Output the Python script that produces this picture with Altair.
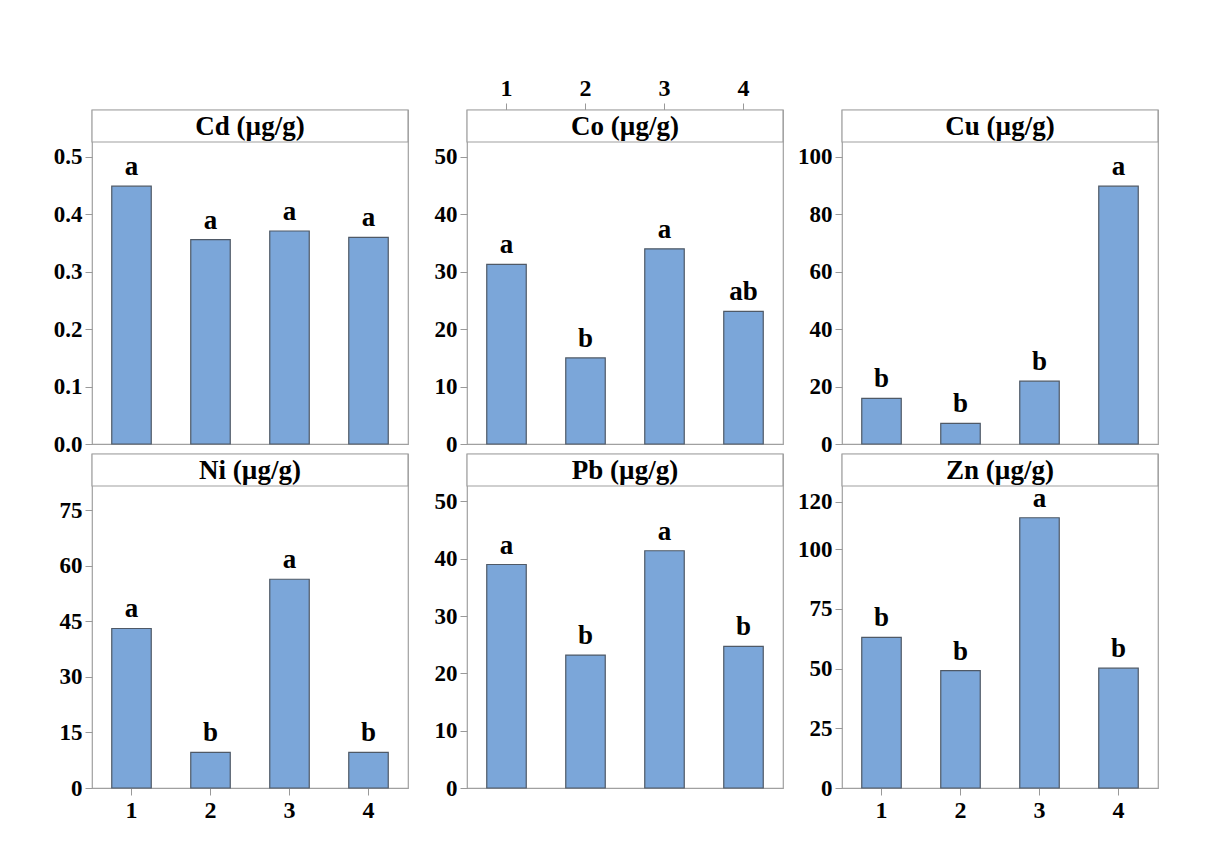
import altair as alt
import pandas as pd

groups = ["1", "2", "3", "4"]

cd_vals = [0.449, 0.356, 0.371, 0.360]
co_vals = [31.3, 15.0, 34.0, 23.1]
cu_vals = [15.9, 7.2, 21.9, 89.8]
ni_vals = [43.1, 9.6, 56.4, 9.6]
pb_vals = [39.0, 23.2, 41.4, 24.7]
zn_vals = [63.1, 49.2, 113.2, 50.2]

cd_letters = ["a", "a", "a", "a"]
co_letters = ["a", "b", "a", "ab"]
cu_letters = ["b", "b", "b", "a"]
ni_letters = ["a", "b", "a", "b"]
pb_letters = ["a", "b", "a", "b"]
zn_letters = ["b", "b", "a", "b"]

titles = ["Cd (µg/g)", "Co (µg/g)", "Cu (µg/g)", "Ni (µg/g)", "Pb (µg/g)", "Zn (µg/g)"]

# value at the top of the plotting area (just under the header strip)
plot_tops = [0.526, 52.6, 105.2, 81.6, 52.7, 126.5]

cd_ticks = [0.0, 0.1, 0.2, 0.3, 0.4, 0.5]
co_ticks = [0, 10, 20, 30, 40, 50]
cu_ticks = [0, 20, 40, 60, 80, 100]
ni_ticks = [0, 15, 30, 45, 60, 75]
pb_ticks = [0, 10, 20, 30, 40, 50]
zn_ticks = [0, 25, 50, 75, 100, 120]

FONT = "Liberation Serif"
W = 316
H = 334
HEADER = 32
PLOT_H = H - HEADER

BAR_FILL = "#7ba6d9"
BAR_STROKE = "#4f5966"
FRAME = "#a0a0a0"


def panel(vals, letters, title, top, ticks, fmt, xaxis):
    df = pd.DataFrame({"g": groups, "v": vals, "lab": letters})
    dmax = top * H / PLOT_H
    xscale = alt.Scale(paddingInner=0.5, paddingOuter=0.25)
    if xaxis is None:
        xax = None
    else:
        xax = alt.Axis(
            orient=xaxis, title=None, labelAngle=0, labelFont=FONT,
            labelFontSize=24, labelFontWeight="bold", labelColor="black",
            tickColor="#999999", tickSize=7, labelPadding=3, domain=False,
            grid=False,
        )
    yax = alt.Axis(
        values=ticks, format=fmt, title=None, labelFont=FONT,
        labelFontSize=23, labelFontWeight="bold", labelColor="black",
        tickColor="#999999", tickSize=7, labelPadding=3, domain=False,
        grid=False, minExtent=45, maxExtent=45,
    )
    base = alt.Chart(df)
    bars = base.mark_bar(
        fill=BAR_FILL, stroke=BAR_STROKE, strokeWidth=1.2
    ).encode(
        x=alt.X("g:N", scale=xscale, axis=xax, sort=groups),
        y=alt.Y("v:Q", scale=alt.Scale(domain=[0, dmax], nice=False, zero=True), axis=yax),
    )
    text = base.mark_text(
        font=FONT, fontSize=27, fontWeight="bold", color="black",
        baseline="alphabetic", dy=-11,
    ).encode(
        x=alt.X("g:N", sort=groups),
        y=alt.Y("v:Q"),
        text="lab:N",
    )
    hdata = alt.Data(values=[{"h": title}])
    hrect = alt.Chart(hdata).mark_rect(
        fill="white", stroke=FRAME, strokeWidth=1.2
    ).encode(
        x=alt.value(0), x2=alt.value(W), y=alt.value(0), y2=alt.value(HEADER)
    )
    htext = alt.Chart(hdata).mark_text(
        font=FONT, fontSize=27, fontWeight="bold", color="black",
        baseline="middle", align="center",
    ).encode(
        x=alt.value(W / 2), y=alt.value(HEADER / 2 + 1), text="h:N"
    )
    return alt.layer(bars, text, hrect, htext).properties(
        width=W, height=H, view=alt.ViewBackground(stroke=FRAME, strokeWidth=1.2)
    )


panels = [
    panel(cd_vals, cd_letters, titles[0], plot_tops[0], cd_ticks, ".1f", None),
    panel(co_vals, co_letters, titles[1], plot_tops[1], co_ticks, "d", "top"),
    panel(cu_vals, cu_letters, titles[2], plot_tops[2], cu_ticks, "d", None),
    panel(ni_vals, ni_letters, titles[3], plot_tops[3], ni_ticks, "d", "bottom"),
    panel(pb_vals, pb_letters, titles[4], plot_tops[4], pb_ticks, "d", None),
    panel(zn_vals, zn_letters, titles[5], plot_tops[5], zn_ticks, "d", "bottom"),
]

chart = alt.ConcatChart(
    concat=panels, columns=3, spacing={"row": 10, "column": 59}, bounds="flush"
).properties(
    padding={"left": 38, "top": 67, "right": 5, "bottom": 5}
).configure_view(
    stroke=FRAME, strokeWidth=1.2
).configure(background="white")

chart.save("out.html", embed_options={"renderer": "svg", "actions": False})
